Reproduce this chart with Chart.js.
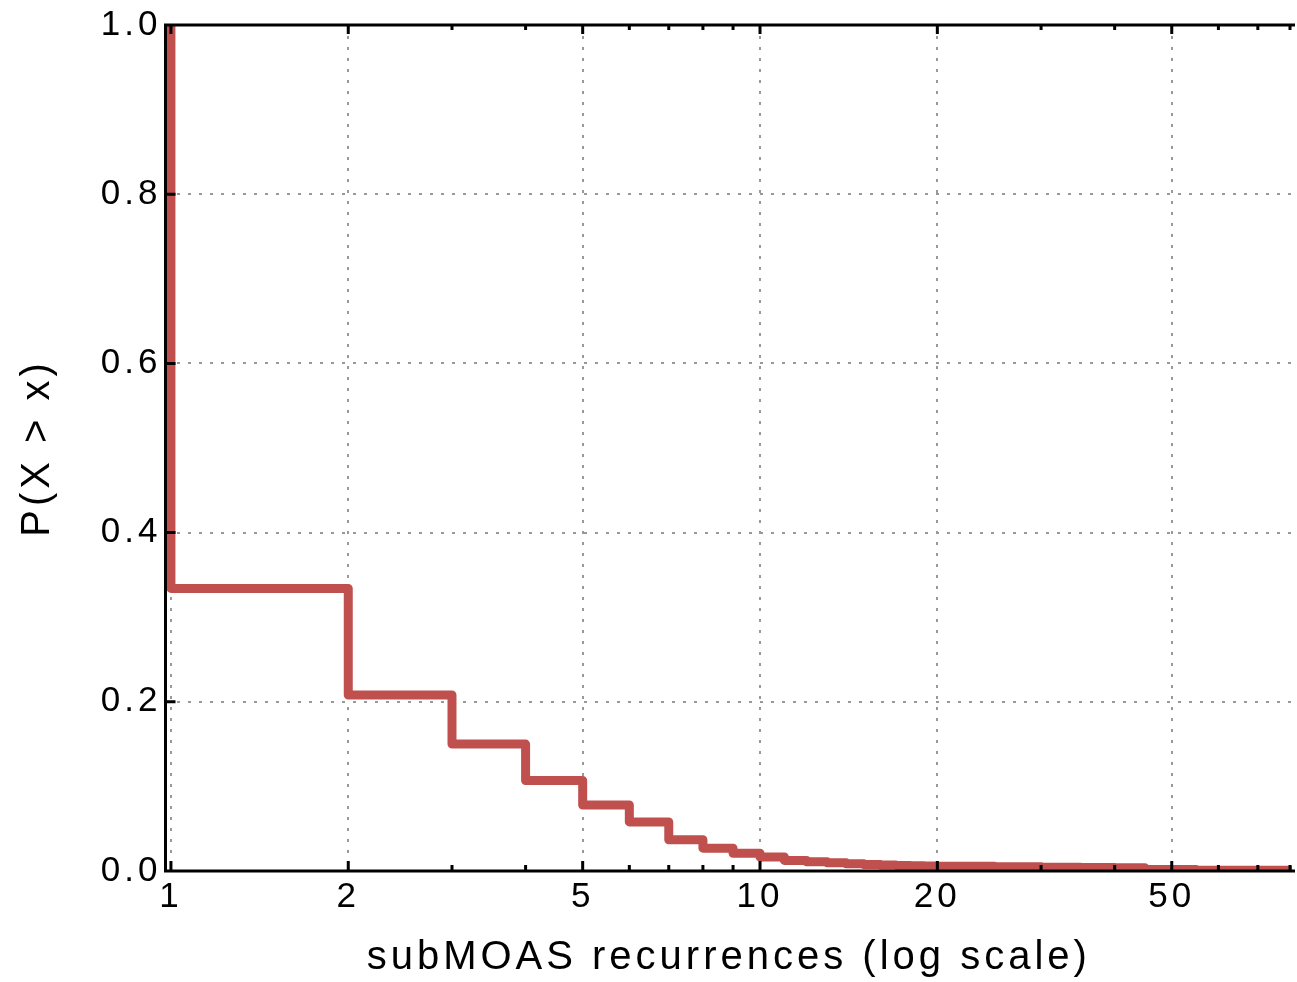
<!DOCTYPE html>
<html><head><meta charset="utf-8">
<script src="https://cdn.jsdelivr.net/npm/chart.js@4.4.1/dist/chart.umd.min.js"></script>
<style>html,body{margin:0;padding:0;background:#fff;overflow:hidden;}</style>
</head><body>
<canvas id="c" width="1297" height="982"></canvas>
<script>
// ---- data ----
const recurrences = [1, 1, 2, 3, 4, 5, 6, 7, 8, 9, 10, 11, 12, 13, 14, 15, 16, 17, 18, 19, 20, 25, 30, 35, 40, 45, 55, 80];
const ccdf = [1.0, 0.334, 0.208, 0.150, 0.107, 0.078, 0.058, 0.037, 0.027, 0.021, 0.0165, 0.0125, 0.011, 0.0097, 0.0085, 0.0077, 0.007, 0.0066, 0.0062, 0.006, 0.0056, 0.005, 0.0045, 0.0042, 0.0039, 0.0018, 0.001, 0.001];
const majorTicks = [1, 2, 5, 10, 20, 50];
const minorTicks = [3, 4, 6, 7, 8, 9, 30, 40, 60, 70, 80];
const yTicks = [0, 0.2, 0.4, 0.6, 0.8, 1.0];
const xTitle = 'subMOAS recurrences (log scale)';
const yTitle = 'P(X > x)';

Chart.defaults.font.family = "'Liberation Sans', Arial, Helvetica, sans-serif";
Chart.defaults.color = '#000';
const LS = '4px';

const spacingPlugin = {
  id: 'spacing',
  beforeUpdate(chart) { chart.ctx.letterSpacing = LS; },
  beforeLayout(chart) { chart.ctx.letterSpacing = LS; },
  beforeDraw(chart) { chart.ctx.letterSpacing = LS; }
};

const framePlugin = {
  id: 'frame',
  afterDraw(chart) {
    const { ctx, chartArea: a, scales: { x, y } } = chart;
    ctx.save();
    ctx.strokeStyle = '#000';
    ctx.lineWidth = 3;
    ctx.lineCap = 'butt';
    ctx.beginPath();
    majorTicks.forEach(v => {
      const px = x.getPixelForValue(v);
      ctx.moveTo(px, a.bottom); ctx.lineTo(px, a.bottom - 10);
      ctx.moveTo(px, a.top); ctx.lineTo(px, a.top + 9);
    });
    minorTicks.forEach(v => {
      const px = Math.min(x.getPixelForValue(v), a.right - 2);
      ctx.moveTo(px, a.bottom); ctx.lineTo(px, a.bottom - 6);
      ctx.moveTo(px, a.top); ctx.lineTo(px, a.top + 5);
    });
    yTicks.slice(1, -1).forEach(v => {
      const py = y.getPixelForValue(v);
      ctx.moveTo(a.left, py); ctx.lineTo(a.left + 10, py);
    });
    ctx.stroke();
    ctx.beginPath();
    ctx.moveTo(a.right + 3, a.top);
    ctx.lineTo(a.left, a.top);
    ctx.lineTo(a.left, a.bottom);
    ctx.lineTo(a.right + 3, a.bottom);
    ctx.stroke();
    ctx.restore();
  }
};

const points = recurrences.map((r, i) => ({ x: r, y: ccdf[i] }));

new Chart(document.getElementById('c'), {
  type: 'line',
  data: {
    datasets: [{
      data: points,
      stepped: true,
      borderColor: '#C0504D',
      backgroundColor: '#C0504D',
      borderWidth: 9,
      borderJoinStyle: 'round',
      pointRadius: 0,
      fill: false,
      clip: 0
    }]
  },
  options: {
    responsive: false,
    animation: false,
    devicePixelRatio: 1,
    layout: { autoPadding: false, padding: { top: 19, left: 0, right: 0, bottom: 0 } },
    plugins: { legend: { display: false }, tooltip: { enabled: false } },
    scales: {
      x: {
        type: 'logarithmic',
        min: 0.979,
        max: 80,
        z: 1,
        afterBuildTicks(s) {
          s.ticks = majorTicks.concat(minorTicks).sort((a, b) => a - b).map(v => ({ value: v }));
        },
        afterFit(s) { s.height = 111; },
        ticks: {
          autoSkip: false, maxRotation: 0, minRotation: 0, padding: 5,
          font: { size: 35 },
          callback(v) { return majorTicks.includes(v) ? String(v) : ''; }
        },
        grid: {
          drawTicks: false, lineWidth: 2,
          color: c => (c.tick && majorTicks.includes(c.tick.value)) ? '#999999' : 'rgba(0,0,0,0)'
        },
        border: { display: false, dash: [3, 8] },
        title: { display: true, text: xTitle, font: { size: 40 }, padding: { top: 0, bottom: 0 } }
      },
      y: {
        type: 'linear',
        min: 0,
        max: 1,
        z: 1,
        afterBuildTicks(s) { s.ticks = yTicks.map(v => ({ value: v })); },
        afterFit(s) { s.width = 165.5; },
        ticks: { padding: 4, font: { size: 35 }, callback: v => Number(v).toFixed(1) },
        grid: {
          drawTicks: false, lineWidth: 2,
          color: c => (c.tick && c.tick.value > 0 && c.tick.value < 1) ? '#999999' : 'rgba(0,0,0,0)'
        },
        border: { display: false, dash: [3, 8] },
        title: { display: true, text: yTitle, font: { size: 40 }, padding: { top: 14, bottom: 0 } }
      }
    }
  },
  plugins: [spacingPlugin, framePlugin]
});
</script>
</body></html>
